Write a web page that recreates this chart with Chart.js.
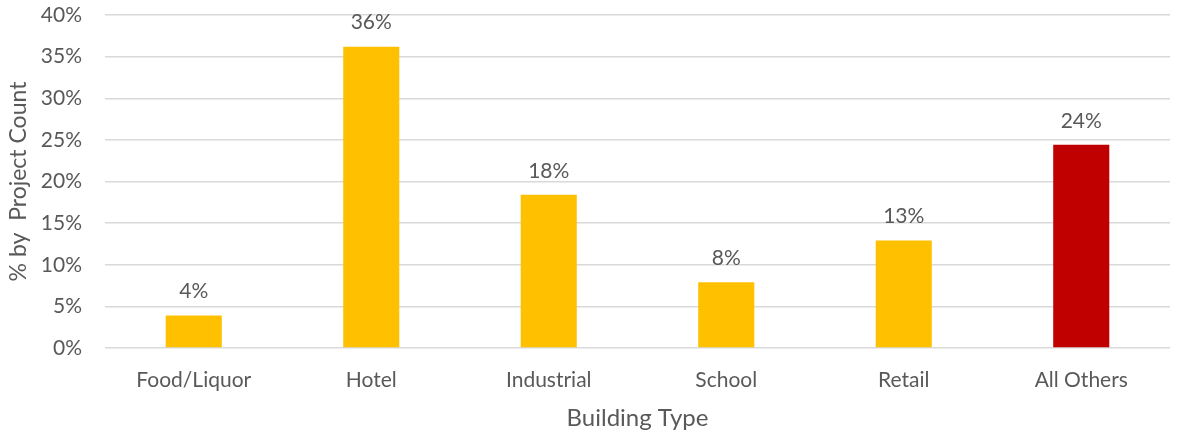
<!DOCTYPE html>
<html>
<head>
<meta charset="utf-8">
<script src="https://cdn.jsdelivr.net/npm/chart.js@4"></script>
<style>
  html, body { margin: 0; padding: 0; background: #fff; }
  #wrap { width: 1180px; height: 435px; }
</style>
</head>
<body>
<div id="wrap"><canvas id="myChart"></canvas></div>
<script>
const buildingTypes = ["Food/Liquor", "Hotel", "Industrial", "School", "Retail", "All Others"];
const projectShare = [3.9, 36.2, 18.4, 7.9, 12.9, 24.4];
const barColors = ["#FFC000", "#FFC000", "#FFC000", "#FFC000", "#FFC000", "#C00000"];

const textColor = "#595959";
const fontFamily = "Lato, 'Open Sans', sans-serif";

// étiquettes au-dessus des barres
const valueLabels = {
  id: "valueLabels",
  afterDatasetsDraw(chart) {
    const ctx = chart.ctx;
    const meta = chart.getDatasetMeta(0);
    ctx.save();
    ctx.font = "21px " + fontFamily;
    ctx.fillStyle = textColor;
    ctx.textAlign = "center";
    ctx.textBaseline = "middle";
    meta.data.forEach((bar, i) => {
      ctx.fillText(Math.round(projectShare[i]) + "%", bar.x, bar.y - 24);
    });
    ctx.restore();
  }
};

const chart = new Chart(document.getElementById("myChart"), {
  type: "bar",
  data: {
    labels: buildingTypes,
    datasets: [
      {
        data: projectShare,
        backgroundColor: barColors,
        categoryPercentage: 1,
        barPercentage: 0.316
      }
    ]
  },
  options: {
    responsive: true,
    maintainAspectRatio: false,
    animation: false,
    layout: { padding: { top: 15, right: 10, bottom: 0, left: 0 } },
    scales: {
      x: {
        grid: { display: false, drawTicks: false },
        border: { display: false },
        ticks: { color: textColor, font: { family: fontFamily, size: 21 }, padding: 20 },
        title: {
          display: true,
          text: "Building Type",
          color: textColor,
          font: { family: fontFamily, size: 24 },
          padding: { top: 0, bottom: 2 }
        },
        afterFit(scale) { scale.height = 87; }
      },
      y: {
        min: 0,
        max: 40,
        grid: { color: "#d9d9d9", lineWidth: 1.5, drawTicks: false },
        border: { display: false },
        ticks: {
          stepSize: 5,
          color: textColor,
          font: { family: fontFamily, size: 21 },
          padding: 23,
          callback: (v) => v + "%"
        },
        title: {
          display: true,
          text: "% by  Project Count",
          color: textColor,
          font: { family: fontFamily, size: 23 },
          padding: { top: 5, bottom: 0 }
        },
        afterFit(scale) {
          scale.width = 105;
          scale.paddingTop = 0;
          scale.paddingBottom = 0;
        }
      }
    },
    plugins: {
      legend: { display: false },
      tooltip: { enabled: false }
    }
  },
  plugins: [valueLabels]
});
</script>
</body>
</html>
